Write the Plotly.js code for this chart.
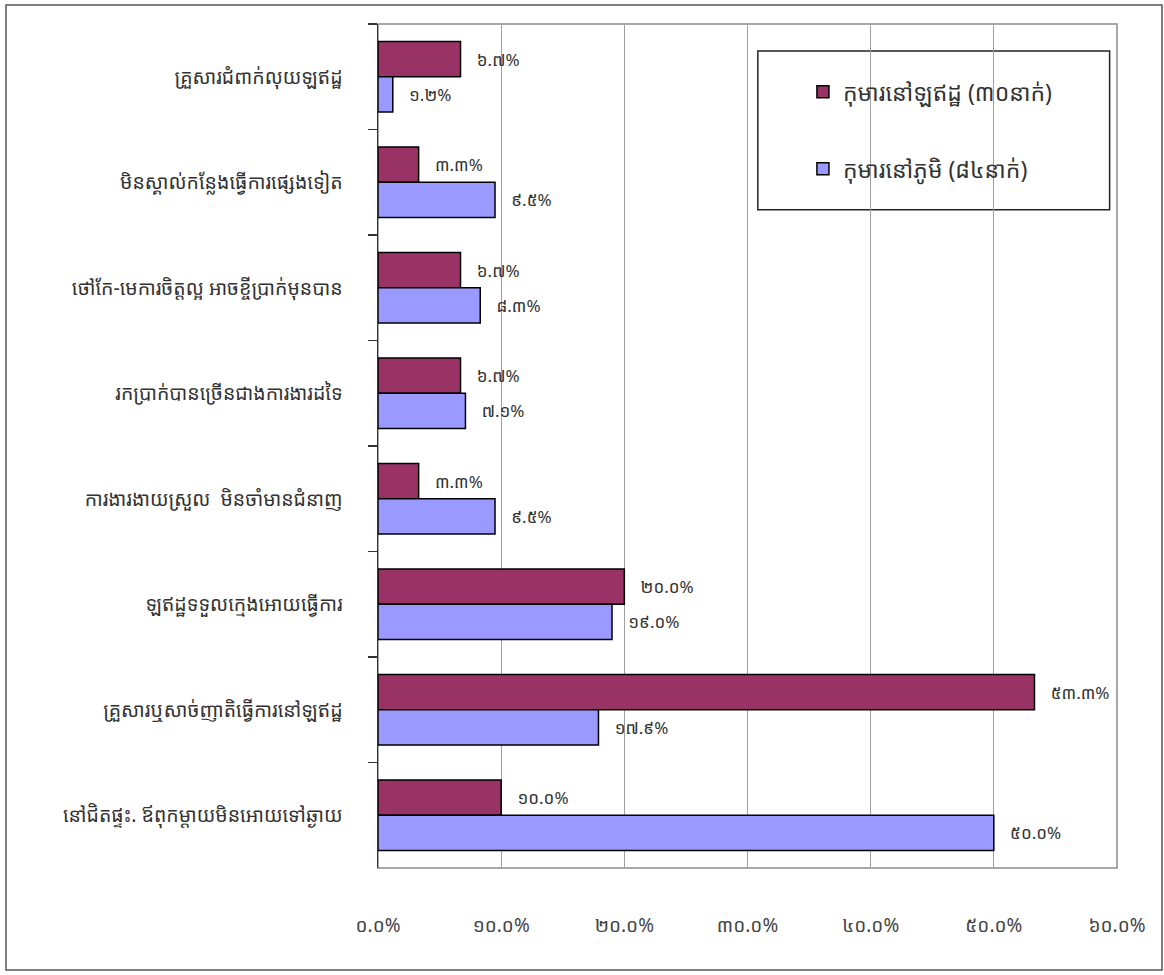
<!DOCTYPE html>
<html>
<head>
<meta charset="utf-8">
<script src="https://cdn.plot.ly/plotly-3.0.1.min.js"></script>
<style>
  html, body { margin: 0; padding: 0; background: #ffffff; }
  #chart { width: 1164px; height: 975px; }
</style>
</head>
<body>
<div id="chart"></div>
<script>
// Categories (top to bottom)
const categories = [
  "គ្រួសារជំពាក់លុយឡឥដ្ឋ",
  "មិនស្គាល់កន្លែងធ្វើការផ្សេងទៀត",
  "ថៅកែ-មេការចិត្តល្អ អាចខ្ចីប្រាក់មុនបាន",
  "រកប្រាក់បានច្រើនជាងការងារដទៃ",
  "ការងារងាយស្រួល  មិនចាំមានជំនាញ",
  "ឡឥដ្ឋទទួលក្មេងអោយធ្វើការ",
  "គ្រួសារឬសាច់ញាតិធ្វើការនៅឡឥដ្ឋ",
  "នៅជិតផ្ទះ. ឪពុកម្តាយមិនអោយទៅឆ្ងាយ"
];
const seriesNames = ["កុមារនៅឡឥដ្ឋ (៣០នាក់)", "កុមារនៅភូមិ (៨៤នាក់)"];
const kilnValues = [6.7, 3.3, 6.7, 6.7, 3.3, 20.0, 53.3, 10.0];
const villageValues = [1.2, 9.5, 8.3, 7.1, 9.5, 19.0, 17.9, 50.0];
const kilnLabels = ["៦.៧%", "៣.៣%", "៦.៧%", "៦.៧%", "៣.៣%", "២០.០%", "៥៣.៣%", "១០.០%"];
const villageLabels = ["១.២%", "៩.៥%", "៨.៣%", "៧.១%", "៩.៥%", "១៩.០%", "១៧.៩%", "៥០.០%"];
const tickValues = [0, 10, 20, 30, 40, 50, 60];
const tickLabels = ["០.០%", "១០.០%", "២០.០%", "៣០.០%", "៤០.០%", "៥០.០%", "៦០.០%"];

const FONT = "'Noto Sans Khmer', 'Khmer OS', 'Khmer OS System', 'DejaVu Sans', sans-serif";
const pad = "\u00a0\u00a0\u00a0";

const traces = [
  {
    type: "bar", orientation: "h", name: seriesNames[0], legendgroup: "a",
    y: categories, x: kilnValues, text: kilnLabels,
    texttemplate: pad + "%{text}", textposition: "outside", cliponaxis: false,
    textfont: { family: FONT, size: 17, color: "#333333" },
    marker: { color: "#993366", line: { color: "#000000", width: 1.5 } },
    hoverinfo: "x+y"
  },
  {
    type: "bar", orientation: "h", name: seriesNames[1], legendgroup: "b",
    y: categories, x: villageValues, text: villageLabels,
    texttemplate: pad + "%{text}", textposition: "outside", cliponaxis: false,
    textfont: { family: FONT, size: 17, color: "#333333" },
    marker: { color: "#9999FF", line: { color: "#000000", width: 1.5 } },
    hoverinfo: "x+y"
  }
];

const layout = {
  width: 1164, height: 975,
  margin: { l: 378, r: 47, t: 24, b: 107 },
  paper_bgcolor: "#ffffff", plot_bgcolor: "#ffffff",
  font: { family: FONT, size: 15, color: "#333333" },
  barmode: "group", bargap: 0.333, bargroupgap: 0,
  showlegend: true,
  legend: {
    x: 0.575, y: 0.945, xanchor: "left", yanchor: "top",
    bgcolor: "rgba(0,0,0,0)", borderwidth: 0,
    traceorder: "grouped", tracegroupgap: 44, itemwidth: 30,
    font: { family: FONT, size: 23, color: "#333333" }
  },
  xaxis: {
    range: [0, 60], tickvals: tickValues, ticktext: tickLabels,
    showgrid: true, gridcolor: "#a0a0a0", gridwidth: 1,
    zeroline: false, showline: false, ticks: "",
    ticklabelstandoff: 44,
    tickfont: { family: FONT, size: 19, color: "#444444" }
  },
  yaxis: {
    type: "category", autorange: "reversed",
    showline: true, linecolor: "#333333", linewidth: 1.5,
    ticks: "outside", tickson: "boundaries", ticklen: 9, tickcolor: "#333333", tickwidth: 1.5,
    showgrid: false, zeroline: false,
    ticklabelstandoff: 30,
    tickfont: { family: FONT, size: 19.5, color: "#333333" }
  },
  shapes: [
    { type: "rect", xref: "paper", yref: "paper", x0: 0, x1: 1, y0: 0, y1: 1,
      line: { color: "#8c8c8c", width: 1.5 }, layer: "below" },
    { type: "rect", xref: "paper", yref: "paper", x0: 0.514, x1: 0.99, y0: 0.780, y1: 0.968,
      line: { color: "#222222", width: 1.5 }, fillcolor: "#ffffff", layer: "below" },
    { type: "rect", xref: "paper", yref: "paper",
      x0: -372 / 739, x1: 1.0 + 45 / 739, y0: -102 / 844, y1: 1.0 + 19 / 844,
      line: { color: "#555555", width: 1.5 }, layer: "below" }
  ]
};

Plotly.newPlot("chart", traces, layout, { displayModeBar: false, staticPlot: true });
</script>
</body>
</html>
